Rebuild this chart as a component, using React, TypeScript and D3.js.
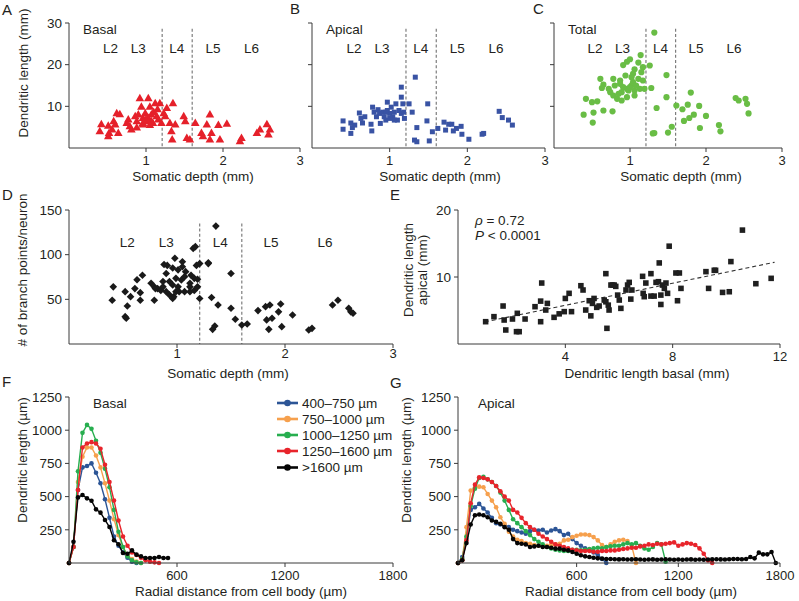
import React from "react";
import * as d3 from "d3";

const FONT = "'Liberation Sans', Arial, Helvetica, sans-serif";
const TXT = "#231f20";
const AX = "#3a3a3a";

// ---------- Data: panels A–C (somatic depth mm, dendritic length mm) ----------
const basalPts: [number, number][] = [
  [0.42,5.6],[0.40,3.9],[0.51,5.2],[0.52,3.5],[0.51,2.7],[0.58,6.3],[0.60,5.5],[0.56,4.3],[0.64,3.5],[0.62,8.2],
  [0.66,8.0],[0.77,6.7],[0.79,5.1],[0.81,4.3],[0.75,5.9],[0.86,7.5],[0.88,6.3],[0.90,7.9],[0.92,11.8],[0.94,9.8],
  [0.96,7.1],[0.96,5.5],[0.99,8.2],[1.01,6.3],[1.03,11.8],[1.05,9.8],[1.07,7.9],[1.09,5.9],[1.12,10.6],[1.14,7.5],
  [1.16,6.7],[1.18,10.6],[1.20,5.9],[1.23,8.2],[1.25,7.5],[1.27,9.5],[1.31,5.9],[1.33,3.9],[1.35,10.6],[1.34,1.9],
  [1.38,5.5],[1.49,7.5],[1.51,6.3],[1.53,2.3],[1.57,1.9],[1.64,5.9],[1.72,3.5],[1.74,2.7],[1.79,5.5],[1.83,7.9],
  [1.83,1.9],[1.85,3.5],[1.94,5.4],[1.96,1.9],[2.05,5.7],[2.22,1.5],[2.24,2.3],[2.44,3.5],[2.48,4.3],[2.57,5.6],
  [2.59,3.1],[2.61,4.3],[1.03,7.1],[1.07,6.3],[1.10,8.5],[0.96,5.9],[1.00,6.8],[1.05,5.4],[0.88,4.8],[1.15,9.2],
];
const apicalPts: [number, number][] = [
  [0.40,6.5],[0.40,4.5],[0.50,6.0],[0.52,4.9],[0.50,3.5],[0.55,5.5],[0.61,8.4],[0.63,7.1],[0.65,6.0],[0.68,7.5],
  [0.76,5.7],[0.77,4.1],[0.78,9.8],[0.80,8.6],[0.83,7.5],[0.85,9.2],[0.87,8.3],[0.88,5.9],[0.91,8.6],[0.93,7.5],
  [0.95,6.7],[0.97,11.0],[0.97,9.0],[1.00,8.3],[1.02,9.8],[1.04,7.5],[1.06,8.6],[1.08,10.6],[1.10,6.7],[1.12,9.0],
  [1.15,14.6],[1.15,12.2],[1.17,10.6],[1.18,8.6],[1.19,7.1],[1.25,10.6],[1.29,8.6],[1.33,17.0],[1.35,4.9],[1.32,1.9],
  [1.35,1.5],[1.49,10.6],[1.48,6.5],[1.51,1.7],[1.55,3.9],[1.62,4.7],[1.70,6.2],[1.72,4.3],[1.76,5.7],[1.80,5.7],
  [1.82,4.1],[1.86,4.7],[1.92,5.2],[1.93,3.3],[2.02,2.1],[2.19,3.3],[2.21,3.5],[2.41,8.8],[2.45,7.3],[2.53,6.7],
  [2.58,5.5],[1.06,6.7],[1.00,7.1],[0.95,8.6],[1.15,8.3],
];
const totalPts: [number, number][] = [
  [1.32,27.7],[1.14,22.3],[1.26,19.8],[1.11,20.5],[1.00,21.3],[0.96,20.7],[0.91,19.9],[1.17,19.4],[1.06,18.9],[1.04,17.8],
  [1.15,18.2],[1.48,17.5],[0.61,16.6],[0.78,16.6],[0.87,16.2],[0.94,17.4],[1.02,17.0],[1.11,16.6],[1.17,16.2],[0.65,15.2],
  [0.63,14.4],[0.80,15.0],[0.87,15.4],[0.91,14.6],[0.96,14.2],[1.02,15.0],[1.06,13.8],[1.13,14.2],[1.19,14.2],[1.28,14.4],
  [0.74,13.4],[0.78,12.6],[0.83,11.8],[0.89,11.4],[0.96,12.2],[1.06,12.6],[0.42,11.8],[0.50,11.0],[0.57,11.2],[0.39,8.0],
  [0.52,8.5],[0.65,9.0],[0.77,8.8],[0.51,6.1],[1.35,9.6],[1.48,12.2],[1.61,10.2],[1.69,9.3],[1.76,10.4],[1.80,13.3],
  [1.91,10.1],[1.71,6.5],[1.78,7.2],[1.84,8.0],[1.92,4.8],[2.00,7.7],[1.30,3.5],[1.32,3.6],[1.50,3.7],[1.55,5.1],
  [2.17,5.5],[2.19,4.0],[2.39,12.0],[2.43,11.4],[2.52,11.8],[2.54,10.6],[2.56,8.3],[0.89,13.4],[0.98,13.8],[0.85,13.0],
  [0.72,14.2],[1.00,14.6],[1.04,15.8],[1.08,15.0],
];

// ---------- Data: panel D (somatic depth mm, branch points) ----------
const branchPts: [number, number][] = [
  [1.36,132],[1.15,107],[1.17,109],[0.91,88],[0.98,96],[1.05,92],[0.88,89],[0.96,85],[1.01,83],[1.05,86.5],
  [1.08,81],[1.13,77],[1.18,88],[1.21,90],[1.29,90],[0.99,73.5],[0.93,70],[0.96,66],[1.01,64],[1.04,71.6],
  [1.07,75.4],[1.12,68],[1.16,73.5],[1.19,72.4],[0.76,68],[0.79,64],[0.82,62],[0.85,60],[0.87,70],[0.90,58.6],
  [0.93,55],[0.97,53],[1.02,58.6],[1.07,58.6],[1.12,64],[1.16,60],[1.19,64],[1.21,51],[0.63,72],[0.68,77],
  [0.61,62],[0.66,57.5],[0.52,58.6],[0.41,64],[0.40,49],[0.57,53],[0.54,42.6],[0.52,30.6],[0.53,28.8],[0.66,49],
  [0.79,49],[0.80,62],[0.96,51],[0.99,58.6],[1.32,52],[1.38,43.7],[1.50,40],[1.50,79],[1.54,27.7],[1.60,21.3],
  [1.65,22.4],[1.35,20.2],[1.33,16.4],[1.75,37.4],[1.82,41.8],[1.83,27],[1.86,43.7],[1.96,44.8],[1.94,36],[1.97,19.4],
  [1.85,16.4],[2.07,32.5],[1.88,28.8],[2.22,15.7],[2.25,17.5],[2.44,43.7],[2.49,49],[2.59,40],[2.61,36],[2.63,34.4],
  [0.90,79],[0.87,64],[1.12,58.6],[1.29,91],
];

// ---------- Data: panel E (basal mm, apical mm) ----------
const corrPts: [number, number][] = [
  [1.03,3.33],[1.34,4.08],[1.68,5.67],[1.72,3.58],[1.78,2.09],[2.03,3.73],[2.18,1.84],[2.28,1.84],[2.21,4.58],[2.50,3.73],
  [2.87,5.57],[3.08,6.4],[3.08,3.33],[3.12,9.1],[3.27,5.07],[3.33,6.06],[3.58,3.98],[3.77,4.5],[3.96,4.83],[4.00,6.8],
  [4.14,7.56],[4.23,4.83],[4.58,8.7],[4.66,8.06],[4.76,5.07],[4.89,6.46],[4.95,4.2],[5.01,6.06],[5.07,6.8],[5.17,5.47],
  [5.26,5.67],[5.45,6.56],[5.51,6.3],[5.51,10.5],[5.55,2.34],[5.60,5.8],[5.63,5.07],[5.70,8.8],[5.82,8.8],[5.88,8.6],
  [5.95,7.3],[6.01,6.56],[6.07,5.32],[6.26,8.06],[6.32,8.8],[6.38,9.2],[6.44,6.7],[6.48,8.06],[6.88,10.1],[6.90,7.56],
  [6.94,7.06],[7.00,9.1],[7.19,10.5],[7.19,7.15],[7.31,7.15],[7.38,9.2],[7.47,9.3],[7.50,12.1],[7.56,5.9],[7.56,7.3],
  [7.62,8.8],[7.69,8.3],[7.75,9.1],[7.81,7.56],[7.87,14.6],[8.12,10.6],[8.18,6.46],[8.25,10.6],[8.31,8.3],[9.24,10.8],
  [9.34,8.3],[9.55,11.0],[9.60,11.0],[9.86,7.7],[10.11,7.8],[10.17,12.3],[11.10,9.0],[11.67,9.8],[10.60,17.0],[5.76,8.8],
];
const corrFit: [number, number][] = [[1.0, 3.3], [11.8, 12.2]];

// ---------- Layers / ticks ----------
const layerNames = ["L2", "L3", "L4", "L5", "L6"];
const layerCenters = [0.54, 0.9, 1.4, 1.87, 2.37];
const layerBounds = [1.21, 1.6];
const depthTicks = [1, 2, 3];
const lengthTicks = [10, 20, 30];
const branchTicks = [50, 100, 150];
const corrXTicks = [4, 8, 12];
const corrYTicks = [10, 20];
const shollYTicks = [250, 500, 750, 1000, 1250];
const shollXTicks = [600, 1200, 1800];

// ---------- Data: panels F, G (Sholl-like profiles, 25 µm bins) ----------
const groupNames = ["400\u2013750 \u00b5m", "750\u20131000 \u00b5m", "1000\u20131250 \u00b5m", "1250\u20131600 \u00b5m", ">1600 \u00b5m"];
const groupColors = ["#2c5596", "#f6a04d", "#27ae4f", "#e8242b", "#050505"];
const binWidth = 25;
const basalStart = 0;
const apicalStart = -100;

const basalBlue = [0,120,550,720,730,750,680,600,480,340,200,130,80,40,10,0];
const basalOrange = [0,120,610,800,870,870,810,720,600,470,330,210,120,60,30,10,0];
const basalGreen = [0,120,690,980,1040,1010,920,830,710,570,400,235,120,50,20,5,0];
const basalRed = [0,120,550,870,900,910,900,860,740,610,470,320,200,130,80,60,40,20,10,5,0];
const basalBlack = [0,160,494,512,487,469,404,379,324,271,171,141,75,70,95,63,50,38,38,38,45,38,38];

const apicalBlue = [0,45,180,400,420,445,410,380,340,300,290,280,270,250,240,230,220,240,250,245,250,230,245,255,240,210,220,180,150,130,110,100,80,60,30,0];
const apicalOrange = [0,30,270,545,570,575,570,520,470,420,345,295,235,200,175,165,150,145,135,130,125,130,135,140,145,170,175,195,205,215,215,210,195,170,135,120,140,160,170,175,165,130,0];
const apicalGreen = [0,30,200,430,560,640,650,630,610,580,530,470,400,330,300,270,240,210,180,160,140,120,110,100,95,90,90,100,100,95,100,105,110,115,110,120,125,130,130,140,150,140,150,130,110,100,120,150,140,10];
const apicalRed = [0,20,170,450,590,645,640,630,610,580,540,500,470,400,380,340,300,270,250,220,200,180,160,140,130,120,110,100,95,90,90,90,85,85,90,90,95,95,100,105,110,115,115,125,130,140,135,145,140,145,150,155,130,140,150,145,135,110,70,20,0];
const apicalBlack = [0,20,150,290,360,365,360,345,320,310,295,270,250,180,150,145,140,120,125,130,120,120,115,108,108,100,95,83,70,58,50,45,40,35,33,30,30,28,27,28,26,27,28,26,25,26,27,25,26,27,26,25,26,25,26,27,25,26,25,26,27,28,27,26,28,30,30,28,30,45,35,78,65,65,83,0];

const basalSeries = [basalBlue, basalOrange, basalGreen, basalRed, basalBlack];
const apicalSeries = [apicalBlue, apicalOrange, apicalGreen, apicalRed, apicalBlack];

// ---------- helpers ----------
type Lin = d3.ScaleLinear<number, number>;

function LeftAxis({ x, y, ticks, labels = true }: { x: Lin; y: Lin; ticks: number[]; labels?: boolean }) {
  const x0 = x.range()[0];
  const [b, t] = y.range();
  return (
    <g>
      <line x1={x0} x2={x0} y1={b} y2={t} stroke={AX} strokeWidth={1} />
      {ticks.map((v) => (
        <g key={v}>
          <line x1={x0 - 4} x2={x0} y1={y(v)} y2={y(v)} stroke={AX} strokeWidth={1} />
          {labels && (
            <text x={x0 - 7} y={y(v) + 4.7} textAnchor="end" fontSize={13.5} fill={TXT}>
              {v}
            </text>
          )}
        </g>
      ))}
    </g>
  );
}

function BottomAxis({ x, y, ticks, labelOffset = 17, fontSize = 13.5 }: { x: Lin; y: Lin; ticks: number[]; labelOffset?: number; fontSize?: number }) {
  const y0 = y.range()[0];
  const [l, r] = x.range();
  return (
    <g>
      <line x1={l} x2={r} y1={y0} y2={y0} stroke={AX} strokeWidth={1} />
      {ticks.map((v) => (
        <g key={v}>
          <line x1={x(v)} x2={x(v)} y1={y0} y2={y0 + 4} stroke={AX} strokeWidth={1} />
          <text x={x(v)} y={y0 + labelOffset} textAnchor="middle" fontSize={fontSize} fill={TXT}>
            {v}
          </text>
        </g>
      ))}
    </g>
  );
}

const triPath = d3.symbol().type(d3.symbolTriangle).size(32)() as string;
const sqPathB = d3.symbol().type(d3.symbolSquare).size(25)() as string;
const sqPathE = d3.symbol().type(d3.symbolSquare).size(31)() as string;
const diamondPath = "M0,-3.8L3.8,0L0,3.8L-3.8,0Z";

function Marker({ kind, cx, cy, color }: { kind: string; cx: number; cy: number; color: string }) {
  if (kind === "circle") return <circle cx={cx} cy={cy} r={3.1} fill={color} />;
  const d = kind === "triangle" ? triPath : kind === "square" ? sqPathB : kind === "squareE" ? sqPathE : diamondPath;
  return <path d={d} transform={`translate(${cx},${cy})`} fill={color} />;
}

function DepthPanel({
  x, y, pts, kind, color, yTicks, yLabels, boundTop, layerY, title,
}: {
  x: Lin; y: Lin; pts: [number, number][]; kind: string; color: string; yTicks: number[]; yLabels: boolean;
  boundTop: number; layerY: number; title?: string;
}) {
  return (
    <g>
      {layerBounds.map((b) => (
        <line key={b} x1={x(b)} x2={x(b)} y1={y(boundTop)} y2={y(0)} stroke="#7d7d7d" strokeWidth={1.2} strokeDasharray="3,2.2" />
      ))}
      {layerNames.map((n, i) => (
        <text key={n} x={x(layerCenters[i])} y={layerY} textAnchor="middle" fontSize={13.5} fill={TXT}>
          {n}
        </text>
      ))}
      {title && (
        <text x={x.range()[0] + 14} y={y.range()[1] + 11} fontSize={13.5} fill={TXT}>
          {title}
        </text>
      )}
      {pts.map((p, i) => (
        <Marker key={i} kind={kind} cx={x(p[0])} cy={y(p[1])} color={color} />
      ))}
      <LeftAxis x={x} y={y} ticks={yTicks} labels={yLabels} />
    </g>
  );
}

function ShollPanel({ x, y, series, start }: { x: Lin; y: Lin; series: number[][]; start: number }) {
  const line = d3
    .line<number>()
    .x((_, i) => x(start + i * binWidth))
    .y((v) => y(v));
  return (
    <g>
      {series.map((s, k) => (
        <g key={k}>
          <path d={line(s) as string} fill="none" stroke={groupColors[k]} strokeWidth={1.4} />
          {s.map((v, i) => (
            <circle key={i} cx={x(start + i * binWidth)} cy={y(v)} r={2.3} fill={groupColors[k]} />
          ))}
        </g>
      ))}
    </g>
  );
}

function RotLabel({ x, y, text }: { x: number; y: number; text: React.ReactNode }) {
  return (
    <text transform={`translate(${x},${y}) rotate(-90)`} textAnchor="middle" fontSize={13.5} fill={TXT}>
      {text}
    </text>
  );
}

export default function App() {
  // Panels A-C
  const yDepth = d3.scaleLinear().domain([0, 30]).range([148, 23]);
  const xA = d3.scaleLinear().domain([0, 3]).range([69, 300]);
  const xB = d3.scaleLinear().domain([0, 3]).range([312, 545]);
  const xC = d3.scaleLinear().domain([0, 3]).range([554, 782]);
  // Panel D
  const xD = d3.scaleLinear().domain([0, 3]).range([69, 393]);
  const yD = d3.scaleLinear().domain([0, 150]).range([344, 210]);
  // Panel E
  const xE = d3.scaleLinear().domain([0, 12]).range([458, 780]);
  const yE = d3.scaleLinear().domain([0, 20]).range([344, 210]);
  // Panels F, G
  const xF = d3.scaleLinear().domain([0, 1800]).range([69, 393]);
  const yF = d3.scaleLinear().domain([0, 1250]).range([563, 397]);
  const xG = d3.scaleLinear().domain([-100, 1800]).range([458, 780]);

  const legendY = [403, 419, 435, 451, 467.5];

  return (
    <svg
      width={799}
      height={601}
      viewBox="0 0 799 601"
      style={{ position: "absolute", left: 0, top: 0, background: "#fff" }}
      fontFamily={FONT}
    >
      <rect x={0} y={0} width={799} height={601} fill="#fff" />

      {/* Panel letters */}
      <text x={2} y={15} fontSize={15} fill={TXT}>A</text>
      <text x={290} y={14} fontSize={15} fill={TXT}>B</text>
      <text x={533} y={14} fontSize={15} fill={TXT}>C</text>
      <text x={2} y={200} fontSize={15} fill={TXT}>D</text>
      <text x={390} y={200} fontSize={15} fill={TXT}>E</text>
      <text x={2} y={387} fontSize={15} fill={TXT}>F</text>
      <text x={390} y={388} fontSize={15} fill={TXT}>G</text>

      {/* A */}
      <DepthPanel x={xA} y={yDepth} pts={basalPts} kind="triangle" color="#e5202a" yTicks={lengthTicks} yLabels={true} boundTop={28.6} layerY={53} title="Basal" />
      <BottomAxis x={xA} y={yDepth} ticks={depthTicks} labelOffset={16.5} fontSize={13} />
      <RotLabel x={28} y={73} text="Dendritic length (mm)" />
      <text x={193} y={181} textAnchor="middle" fontSize={13.5} fill={TXT}>Somatic depth (mm)</text>

      {/* B */}
      <DepthPanel x={xB} y={yDepth} pts={apicalPts} kind="square" color="#3953a4" yTicks={lengthTicks} yLabels={false} boundTop={28.6} layerY={53} title="Apical" />
      <BottomAxis x={xB} y={yDepth} ticks={depthTicks} labelOffset={16.5} fontSize={13} />
      <text x={440} y={181} textAnchor="middle" fontSize={13.5} fill={TXT}>Somatic depth (mm)</text>

      {/* C */}
      <DepthPanel x={xC} y={yDepth} pts={totalPts} kind="circle" color="#69bd45" yTicks={lengthTicks} yLabels={false} boundTop={28.6} layerY={53} title="Total" />
      <BottomAxis x={xC} y={yDepth} ticks={depthTicks} labelOffset={16.5} fontSize={13} />
      <text x={681} y={181} textAnchor="middle" fontSize={13.5} fill={TXT}>Somatic depth (mm)</text>

      {/* D */}
      <DepthPanel x={xD} y={yD} pts={branchPts} kind="diamond" color="#1a1a1a" yTicks={branchTicks} yLabels={true} boundTop={135} layerY={247} />
      <BottomAxis x={xD} y={yD} ticks={depthTicks} labelOffset={13.5} fontSize={13} />
      <RotLabel x={27} y={270} text="# of branch points/neuron" />
      <text x={228} y={378} textAnchor="middle" fontSize={13.5} fill={TXT}>Somatic depth (mm)</text>

      {/* E */}
      <g>
        <line
          x1={xE(corrFit[0][0])}
          y1={yE(corrFit[0][1])}
          x2={xE(corrFit[1][0])}
          y2={yE(corrFit[1][1])}
          stroke="#333"
          strokeWidth={1.1}
          strokeDasharray="4,3"
        />
        {corrPts.map((p, i) => (
          <Marker key={i} kind="squareE" cx={xE(p[0])} cy={yE(p[1])} color="#1f1f1f" />
        ))}
        <LeftAxis x={xE} y={yE} ticks={corrYTicks} />
        <BottomAxis x={xE} y={yE} ticks={corrXTicks} labelOffset={17} fontSize={13} />
        <text x={475} y={225} fontSize={13.5} fill={TXT}>
          <tspan fontStyle="italic">ρ</tspan> = 0.72
        </text>
        <text x={475} y={240} fontSize={13.5} fill={TXT}>
          <tspan fontStyle="italic">P</tspan> &lt; 0.0001
        </text>
        <RotLabel x={413} y={270} text="Dendritic length" />
        <RotLabel x={427} y={270} text="apical (mm)" />
        <text x={647} y={378} textAnchor="middle" fontSize={13.5} fill={TXT}>Dendritic length basal (mm)</text>
      </g>

      {/* F */}
      <ShollPanel x={xF} y={yF} series={basalSeries} start={basalStart} />
      <LeftAxis x={xF} y={yF} ticks={shollYTicks} />
      <BottomAxis x={xF} y={yF} ticks={shollXTicks} labelOffset={16.5} fontSize={13} />
      <text x={93} y={408} fontSize={13.5} fill={TXT}>Basal</text>
      <RotLabel x={27} y={460} text="Dendritic length (µm)" />
      <text x={241} y={596} textAnchor="middle" fontSize={13.5} fill={TXT}>Radial distance from cell body (µm)</text>
      {groupNames.map((n, k) => (
        <g key={n}>
          <line x1={277} x2={298} y1={legendY[k]} y2={legendY[k]} stroke={groupColors[k]} strokeWidth={2.6} />
          <circle cx={287.5} cy={legendY[k]} r={3.3} fill={groupColors[k]} />
          <text x={302} y={legendY[k] + 4.7} fontSize={13.5} fill={TXT}>{n}</text>
        </g>
      ))}

      {/* G */}
      <ShollPanel x={xG} y={yF} series={apicalSeries} start={apicalStart} />
      <LeftAxis x={xG} y={yF} ticks={shollYTicks} />
      <BottomAxis x={xG} y={yF} ticks={shollXTicks} labelOffset={16.5} fontSize={13} />
      <text x={478} y={408} fontSize={13.5} fill={TXT}>Apical</text>
      <RotLabel x={411} y={460} text="Dendritic length (µm)" />
      <text x={631} y={596} textAnchor="middle" fontSize={13.5} fill={TXT}>Radial distance from cell body (µm)</text>
    </svg>
  );
}
